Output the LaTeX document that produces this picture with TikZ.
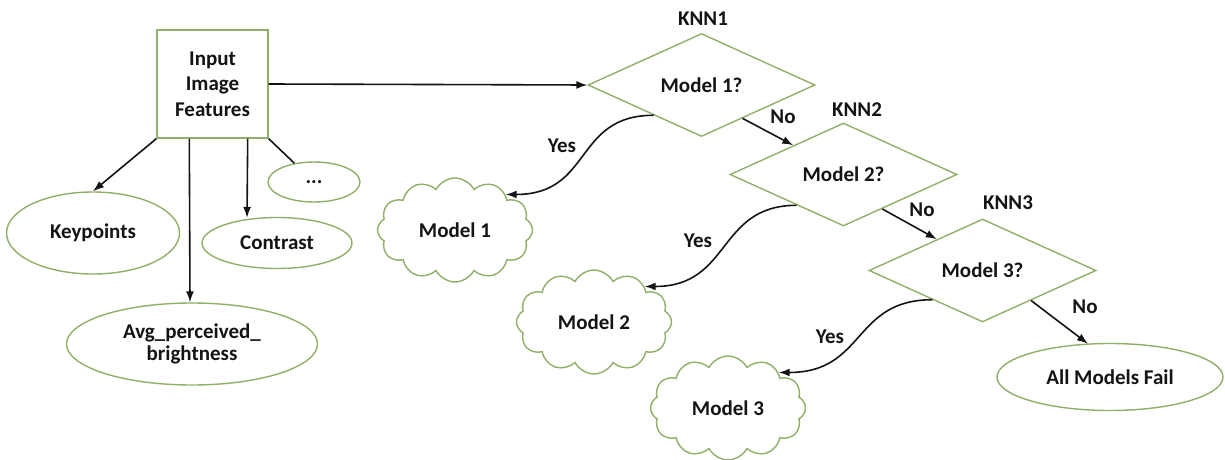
\documentclass[tikz,border=0pt]{standalone}
\usepackage{fontspec}
\setmainfont{Carlito}
\usetikzlibrary{shapes.geometric,shapes.symbols,arrows.meta,calc}
\definecolor{shapegreen}{RGB}{145,175,105}
\definecolor{txt}{RGB}{20,20,20}
\begin{document}
\begin{tikzpicture}[x=1pt,y=-1pt,
 every node/.style={font=\fontsize{21}{25.5}\selectfont\bfseries, text=txt},
 box/.style={draw=shapegreen, line width=1.4pt, minimum width=111pt, minimum height=108pt, inner sep=0pt, align=center},
 ell/.style={draw=shapegreen, line width=1.4pt, ellipse, inner sep=0pt, align=center},
 dia/.style={draw=shapegreen, line width=1.4pt, diamond, minimum width=227pt, minimum height=103pt, inner sep=0pt},
 cld/.style={draw=shapegreen, line width=1.4pt, cloud, cloud puffs=12, cloud puff arc=125, cloud ignores aspect, minimum width=155pt, minimum height=104pt, inner sep=0pt},
 lbl/.style={inner sep=0pt},
 arr/.style={draw=txt, line width=1.6pt, -{Latex[length=11pt,width=8pt]}},
 ln/.style={draw=txt, line width=1.6pt}
]
\useasboundingbox (0,0) rectangle (1225,460);
\fill[white] (0,0) rectangle (1225,460);

\node[box] (in) at (212.5,84) {Input\\Image\\Features};
\node[ell, minimum width=173pt, minimum height=82pt] (kp) at (93,233) {Keypoints};
\node[ell, minimum width=150pt, minimum height=51pt] (ct) at (277,243) {Contrast};
\node[ell, minimum width=92pt, minimum height=40pt] (dots) at (314,182) {...};
\node[ell, minimum width=251pt, minimum height=82pt, font=\fontsize{21}{22}\selectfont\bfseries] (avg) at (192,344) {Avg\_perceived\_\\brightness};
\node[ell, minimum width=226pt, minimum height=67pt] (af) at (1110,377) {All Models Fail};

\node[dia] (d1) at (701.5,85) {Model 1?};
\node[dia] (d2) at (843.5,174.5) {Model 2?};
\node[dia] (d3) at (982.5,270.5) {Model 3?};

\node[cld] (c1) at (455,230) {Model 1};
\node[cld] (c2) at (594,322) {Model 2};
\node[cld] (c3) at (728,408) {Model 3};

\node[lbl] (k1) at (703,19) {KNN1};
\node[lbl] (k2) at (857,110) {KNN2};
\node[lbl] (k3) at (1008,203) {KNN3};

\node[lbl] (y1) at (562,146) {Yes};
\node[lbl] (y2) at (698,241) {Yes};
\node[lbl] (y3) at (830,337) {Yes};
\node[lbl] (n1) at (783,117) {No};
\node[lbl] (n2) at (922,210) {No};
\node[lbl] (n3) at (1085,307) {No};

\draw[arr] (in.east) -- (d1.west);
\draw[arr] (in.south west) -- (kp.north);
\draw[ln] (in.south east) -- (dots);
\draw[arr] ([xshift=-21pt]in.south east) -- ([xshift=-30pt,yshift=-1pt]ct.north);
\draw[arr] ([xshift=33pt]in.south west) -- ([xshift=-2pt]avg.north);

\draw[arr] ($(d1.south)!0.36!(d1.east)$) -- ($(d2.west)!0.56!(d2.north)$);
\draw[arr] ($(d2.south)!0.34!(d2.east)$) -- ($(d3.west)!0.6!(d3.north)$);
\draw[arr] ($(d3.south)!0.425!(d3.east)$) -- ($(af.north)+(-22,1)$);

\draw[arr] ($(d1.west)!0.58!(d1.south)$) .. controls +(-80,0) and +(87,0) .. (c1.35);
\draw[arr] ($(d2.west)!0.59!(d2.south)$) .. controls +(-80,0) and +(87,0) .. (c2.35);
\draw[arr] ($(d3.west)!0.56!(d3.south)$) .. controls +(-80,0) and +(87,0) .. (c3.35);
\end{tikzpicture}
\end{document}
